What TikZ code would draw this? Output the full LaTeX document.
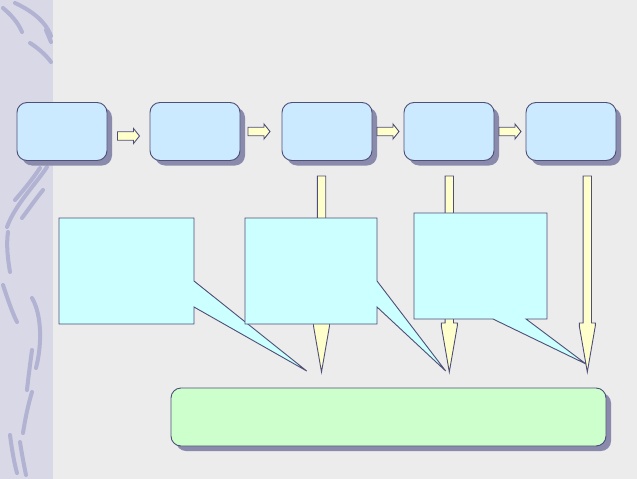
\documentclass[tikz,border=0pt]{standalone}
\usetikzlibrary{shadows,calc}
\definecolor{bgc}{RGB}{236,236,236}
\definecolor{stripc}{RGB}{216,216,230}
\definecolor{swirlc}{RGB}{178,178,210}
\definecolor{edgec}{RGB}{78,78,118}
\definecolor{shadowc}{RGB}{138,138,172}
\definecolor{boxblue}{RGB}{204,234,255}
\definecolor{callc}{RGB}{204,255,255}
\definecolor{arrc}{RGB}{255,255,204}
\definecolor{greenc}{RGB}{204,255,204}
\begin{document}
\begin{tikzpicture}[x=1pt,y=-1pt,
  edgeline/.style={draw=edgec, line width=0.9pt, line join=miter},
  procbox/.style={edgeline, fill=boxblue, rounded corners=10pt, minimum width=90pt, minimum height=58pt, inner sep=0pt,
    drop shadow={shadow xshift=5pt, shadow yshift=-5pt, fill=shadowc, opacity=1}},
  resbox/.style={edgeline, fill=greenc, rounded corners=10pt, minimum width=435pt, minimum height=58pt, inner sep=0pt,
    drop shadow={shadow xshift=5pt, shadow yshift=-5pt, fill=shadowc, opacity=1}},
  blockarrow/.style={edgeline, fill=arrc},
  callout/.style={edgeline, fill=callc},
  swirl/.style={draw=swirlc, line width=4pt, line cap=round}]
\useasboundingbox (0,0) rectangle (637,479);
\fill[bgc] (0,0) rectangle (637,479);
\fill[stripc] (0,0) rectangle (53,479);
% decorative swirls
\draw[swirl] (3,8) .. controls (10,14) and (18,22) .. (22,32);
\draw[swirl] (15,3) .. controls (30,10) and (45,20) .. (51,36);
\draw[swirl] (30,43) .. controls (38,48) and (46,55) .. (51,62);
\draw[swirl] (46,30) -- (51,42);
\draw[swirl] (47,167) .. controls (35,185) and (15,205) .. (7,227);
\draw[swirl] (40,168) .. controls (32,180) and (22,192) .. (15,200);
\draw[swirl] (43,190) .. controls (35,200) and (28,210) .. (22,218);
\draw[swirl] (8,232) .. controls (6,245) and (8,260) .. (10,272);
\draw[swirl] (3,285) .. controls (8,300) and (12,312) .. (17,322);
\draw[swirl] (32,298) .. controls (42,315) and (42,345) .. (36,368);
\draw[swirl] (32,350) .. controls (30,365) and (28,380) .. (27,390);
\draw[swirl] (32,392) .. controls (28,405) and (25,420) .. (23,433);
\draw[swirl] (10,435) .. controls (12,450) and (14,462) .. (17,473);
\draw[swirl] (20,442) .. controls (22,455) and (24,465) .. (26,475);
% process boxes
\node[procbox] (b1) at (62,131.5) {};
\node[procbox] (b2) at (195,131.5) {};
\node[procbox] (b3) at (327,131.5) {};
\node[procbox] (b4) at (449,131.5) {};
\node[procbox] (b5) at (571,131.5) {};
% small arrows between boxes
\coordinate (a12) at ($(b1.east)!0.5!(b2.west)+(0,4.5)$);
\coordinate (a23) at ($(b2.east)!0.5!(b3.west)+(-2,0)$);
\coordinate (a34) at ($(b3.east)!0.5!(b4.west)$);
\coordinate (a45) at ($(b4.east)!0.5!(b5.west)$);
\foreach \p in {a12,a23,a34,a45}
  \draw[blockarrow, shift={(\p)}] (-11,-4.25) -- (5,-4.25) -- (5,-7.5) -- (11,0) -- (5,7.5) -- (5,4.25) -- (-11,4.25) -- cycle;
% vertical arrows
\coordinate (v3) at (321.5,0);
\coordinate (v4) at (449.3,0);
\coordinate (v5) at (587.3,0);
\foreach \p in {v3,v4,v5}
  \draw[blockarrow, shift={(\p)}] (-4.2,176) -- (4.2,176) -- (4.2,323) -- (8,323) -- (8,326) -- (0,372) -- (-8,326) -- (-8,323) -- (-4.2,323) -- cycle;
% callouts
\draw[callout] (59,218) -- (194,218) -- (194,281) -- (306.7,371) -- (194,307) -- (194,324) -- (59,324) -- cycle;
\draw[callout] (245,218) -- (377,218) -- (377,281) -- (445.7,371) -- (377,307) -- (377,324) -- (245,324) -- cycle;
\draw[callout] (414,213) -- (547,213) -- (547,319) -- (526,319) -- (586,364) -- (493,319) -- (414,319) -- cycle;
% result box
\node[resbox] (res) at (388.5,417) {};
\end{tikzpicture}
\end{document}
